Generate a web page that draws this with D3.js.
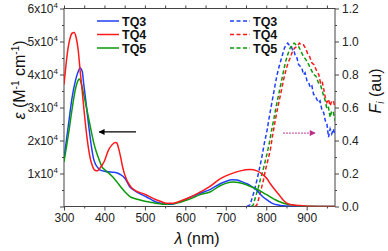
<!DOCTYPE html>
<html><head><meta charset="utf-8">
<script src="https://cdn.jsdelivr.net/npm/d3@7"></script>
<style>body{margin:0;background:#fff} text{font-family:"Liberation Sans",Arial,sans-serif}</style>
</head><body><svg id="c" width="388" height="251"></svg>
<script>
// ---------- data ----------
const seriesNames = ["TQ3", "TQ4", "TQ5"];
const colors = ["#1f3fff", "#ff1a1a", "#0a9a0a"];

// absorption (epsilon, M^-1 cm^-1)
const absWlTQ3 = [300,312,320,328,334,340,345,349,353,357,361,365,369,373,378,382,386,390,400,410,420,430,439,451,463,472,480,492,505,517,529,541,554,566,579,595,612,637,661,686,700,715,728,736,748,760,768,777,785,793,802,810,818,826,835,843,860,900,970];
const absTQ3    = [1.45,2.57,3.3,3.8,4.05,4.2,4.1,3.69,3.3,2.87,2.45,2.06,1.72,1.45,1.28,1.2,1.14,1.1,1.07,1.05,1.04,1.02,0.97,0.85,0.59,0.5,0.44,0.36,0.28,0.2,0.13,0.1,0.07,0.07,0.11,0.18,0.28,0.4,0.51,0.69,0.76,0.81,0.8,0.77,0.71,0.64,0.57,0.49,0.38,0.28,0.2,0.13,0.08,0.05,0.03,0.02,0.01,0,0];

const absWlTQ4 = [300,305,310,315,320,325,330,335,340,345,349,353,357,361,365,369,373,378,382,386,390,394,400,410,418,427,431,435,440,444,448,452,456,460,465,472,480,488,496,505,513,525,538,554,570,591,612,637,661,686,711,736,760,777,793,802,810,818,826,835,843,851,859,870,883,900,970];
const absTQ4    = [3.7,4.3,4.8,5.1,5.25,5.27,5.12,4.75,4.1,3.5,2.98,2.5,2.07,1.72,1.45,1.27,1.15,1.09,1.08,1.12,1.18,1.25,1.38,1.71,1.86,1.94,1.92,1.76,1.5,1.25,1.05,0.9,0.78,0.69,0.6,0.52,0.46,0.42,0.39,0.34,0.29,0.22,0.16,0.1,0.1,0.18,0.28,0.44,0.61,0.84,0.98,1.08,1.12,1.08,0.95,0.84,0.69,0.56,0.44,0.3,0.18,0.1,0.06,0.04,0.03,0.01,0];

const absWlTQ5 = [300,306,312,320,328,334,338,343,349,355,361,367,373,380,386,394,402,410,420,430,440,451,463,475,488,500,513,525,538,550,562,575,587,600,612,637,661,686,700,719,731,744,756,769,781,793,806,818,830,843,855,868,900,970];
const absTQ5    = [1.35,1.8,2.27,2.95,3.54,3.8,3.86,3.72,3.38,3.03,2.67,2.3,1.96,1.65,1.45,1.2,1.1,1.02,0.9,0.76,0.6,0.44,0.3,0.24,0.2,0.16,0.13,0.1,0.08,0.07,0.08,0.09,0.13,0.18,0.23,0.36,0.44,0.63,0.7,0.74,0.73,0.69,0.63,0.57,0.5,0.41,0.32,0.23,0.16,0.1,0.06,0.04,0.01,0];

// emission (normalised F_i)
const emWlTQ3 = [752,760,770,777,785,790,795,802,808,814,820,826,832,839,845,849,853,856,859,862,865,868,872,876,880,884,888,892,896,901,905,909,913,917,921,925,929,933,938,942,946,950,954,958,962,966,970];
const emTQ3   = [0,0.01,0.09,0.16,0.25,0.31,0.38,0.46,0.55,0.63,0.71,0.79,0.85,0.91,0.96,0.98,0.99,0.98,0.98,0.97,0.95,0.95,0.91,0.9,0.86,0.85,0.84,0.8,0.81,0.76,0.75,0.72,0.73,0.68,0.67,0.65,0.63,0.64,0.58,0.57,0.52,0.5,0.42,0.47,0.44,0.47,0.43];

const emWlTQ4 = [772,777,783,788,793,798,804,810,815,820,826,832,838,843,849,854,859,865,870,876,882,887,892,897,902,907,913,918,925,930,934,938,943,946,950,954,958,962,966,970];
const emTQ4   = [0,0.01,0.06,0.11,0.16,0.22,0.28,0.34,0.42,0.49,0.57,0.64,0.71,0.77,0.83,0.87,0.9,0.94,0.96,0.97,0.99,0.98,0.98,0.96,0.93,0.91,0.87,0.86,0.82,0.8,0.75,0.76,0.7,0.66,0.63,0.65,0.61,0.64,0.64,0.6];

const emWlTQ5 = [763,768,775,780,785,792,797,802,808,813,818,824,830,835,841,847,853,859,864,869,874,880,886,892,898,905,911,917,923,929,935,942,946,950,954,958,962,966,970];
const emTQ5   = [0,0.01,0.07,0.11,0.16,0.22,0.27,0.32,0.39,0.46,0.52,0.6,0.67,0.73,0.8,0.87,0.92,0.96,0.98,0.99,0.98,0.97,0.94,0.91,0.89,0.86,0.83,0.8,0.79,0.75,0.73,0.67,0.64,0.59,0.6,0.54,0.58,0.57,0.52];

const xTicks = [300,400,500,600,700,800,900];
const yLeftTicks = [1,2,3,4,5,6];          // x10^4
const yRightTicks = [0,0.2,0.4,0.6,0.8,1.0,1.2];

// arrows (data coordinates)
const absArrow = {from:[478, 2.26], to:[387, 2.26]};   // left axis
const emArrow  = {from:[842, 0.445], to:[921, 0.445]}; // right axis

// ---------- chart ----------
const svg = d3.select("#c");
const L = 64, R = 335, T = 8.5, B = 206.5;
const x = d3.scaleLinear().domain([300, 970]).range([L, R]);
const yL = d3.scaleLinear().domain([0, 6]).range([B, T]);
const yR = d3.scaleLinear().domain([0, 1.2]).range([B, T]);
const axisColor = "#444";

svg.append("clipPath").attr("id","clip").append("rect")
  .attr("x", L).attr("y", T).attr("width", R-L).attr("height", B-T);

function styleAxis(g){
  g.select(".domain").remove();
  g.selectAll("line").attr("stroke", axisColor);
  g.selectAll("text").attr("fill","#222").style("font-size","12px").style("font-family",'"Liberation Sans",Arial,sans-serif');
}
// bottom
svg.append("g").attr("transform",`translate(0,${B})`)
  .call(d3.axisBottom(x).tickValues(xTicks).tickSize(4).tickPadding(3).tickFormat(d3.format("d"))).call(styleAxis);
svg.append("g").attr("transform",`translate(0,${B})`)
  .call(d3.axisBottom(x).tickValues(d3.range(350,970,100)).tickSize(2).tickFormat("")).call(styleAxis);
// top
svg.append("g").attr("transform",`translate(0,${T})`)
  .call(d3.axisTop(x).tickValues(d3.range(300,970,50)).tickSize(3).tickFormat("")).call(styleAxis);
// left
const gl = svg.append("g").attr("transform",`translate(${L},0)`)
  .call(d3.axisLeft(yL).tickValues([0].concat(yLeftTicks)).tickSize(4).tickPadding(3).tickFormat(""));
styleAxis(gl);
gl.selectAll(".tick").each(function(d){
  if (d === 0) return;
  const t = d3.select(this).append("text").attr("x",-6).attr("dy","0.35em")
    .attr("text-anchor","end").attr("fill","#222").style("font-size","12px");
  t.append("tspan").text(d + "x10");
  t.append("tspan").attr("dy","-5").style("font-size","8px").text("4");
});
svg.append("g").attr("transform",`translate(${L},0)`)
  .call(d3.axisLeft(yL).tickValues(d3.range(0.5,6,1)).tickSize(2).tickFormat("")).call(styleAxis);
// right
svg.append("g").attr("transform",`translate(${R},0)`)
  .call(d3.axisRight(yR).tickValues(yRightTicks).tickSize(4).tickPadding(3).tickFormat(d3.format(".1f"))).call(styleAxis);
svg.append("g").attr("transform",`translate(${R},0)`)
  .call(d3.axisRight(yR).tickValues(d3.range(0.1,1.2,0.2)).tickSize(2).tickFormat("")).call(styleAxis);
// frame
svg.append("rect").attr("x",L).attr("y",T).attr("width",R-L).attr("height",B-T)
  .attr("fill","none").attr("stroke",axisColor).attr("stroke-width",1);

// curves
const plot = svg.append("g").attr("clip-path","url(#clip)");
const absSets = [[absWlTQ3,absTQ3],[absWlTQ4,absTQ4],[absWlTQ5,absTQ5]];
const emSets  = [[emWlTQ3,emTQ3],[emWlTQ4,emTQ4],[emWlTQ5,emTQ5]];
const lineAbs = d3.line().x(d=>x(d[0])).y(d=>yL(d[1])).curve(d3.curveMonotoneX);
const lineEm  = d3.line().x(d=>x(d[0])).y(d=>yR(d[1])).curve(d3.curveLinear);
[0,1,2].forEach(i=>{
  const [w,v] = emSets[i];
  plot.append("path").datum(w.map((d,j)=>[d,v[j]])).attr("d",lineEm)
    .attr("fill","none").attr("stroke",colors[i]).attr("stroke-width",1.5).attr("stroke-dasharray","4,2.5");
});
[0,2,1].forEach(i=>{
  const [w,v] = absSets[i];
  plot.append("path").datum(w.map((d,j)=>[d,v[j]])).attr("d",lineAbs)
    .attr("fill","none").attr("stroke",colors[i]).attr("stroke-width",1.5);
});

// arrows
const defs = svg.append("defs");
defs.append("marker").attr("id","ah").attr("viewBox","0 0 10 10").attr("refX",9).attr("refY",5)
  .attr("markerWidth",6).attr("markerHeight",5).attr("orient","auto-start-reverse")
  .append("path").attr("d","M0,0L10,5L0,10Z").attr("fill","#000");
defs.append("marker").attr("id","ahp").attr("viewBox","0 0 10 10").attr("refX",9).attr("refY",5)
  .attr("markerWidth",6).attr("markerHeight",5).attr("orient","auto")
  .append("path").attr("d","M0,0L10,5L0,10Z").attr("fill","#b8308c");
svg.append("line").attr("x1",x(absArrow.from[0])).attr("y1",yL(absArrow.from[1]))
  .attr("x2",x(absArrow.to[0])).attr("y2",yL(absArrow.to[1]))
  .attr("stroke","#000").attr("stroke-width",1.2).attr("marker-end","url(#ah)");
svg.append("line").attr("x1",x(emArrow.from[0])).attr("y1",yR(emArrow.from[1]))
  .attr("x2",x(emArrow.to[0])).attr("y2",yR(emArrow.to[1]))
  .attr("stroke","#b8308c").attr("stroke-width",1.2).attr("stroke-dasharray","1.5,1.5").attr("marker-end","url(#ahp)");

// legends
const legY = [21, 34.5, 48];
seriesNames.forEach((n,i)=>{
  svg.append("line").attr("x1",97).attr("x2",119).attr("y1",legY[i]).attr("y2",legY[i])
    .attr("stroke",colors[i]).attr("stroke-width",1.5);
  svg.append("text").attr("x",122).attr("y",legY[i]+4.5).attr("font-weight","bold")
    .style("font-size","12.5px").attr("fill","#111").text(n);
  svg.append("line").attr("x1",230).attr("x2",250).attr("y1",legY[i]).attr("y2",legY[i])
    .attr("stroke",colors[i]).attr("stroke-width",1.5).attr("stroke-dasharray","4,2.5");
  svg.append("text").attr("x",253).attr("y",legY[i]+4.5).attr("font-weight","bold")
    .style("font-size","12.5px").attr("fill","#111").text(n);
});

// axis titles
const xt = svg.append("text").attr("x",197).attr("y",244).attr("text-anchor","middle").style("font-size","16px").attr("fill","#111");
xt.append("tspan").style("font-style","italic").text("λ");
xt.append("tspan").text(" (nm)");

const ylt = svg.append("text").attr("transform","translate(25,80) rotate(-90)").attr("text-anchor","middle")
  .style("font-size","16px").attr("fill","#111");
ylt.append("tspan").style("font-style","italic").text("ε");
ylt.append("tspan").text(" (M");
ylt.append("tspan").attr("dy",-6).style("font-size","10px").text("-1");
ylt.append("tspan").attr("dy",6).text(" cm");
ylt.append("tspan").attr("dy",-6).style("font-size","10px").text("-1");
ylt.append("tspan").attr("dy",6).text(")");

const yrt = svg.append("text").attr("transform","translate(381,91) rotate(-90)").attr("text-anchor","middle")
  .style("font-size","16px").attr("fill","#111");
yrt.append("tspan").style("font-style","italic").text("F");
yrt.append("tspan").attr("dy",3).style("font-size","10px").style("font-style","italic").text("i");
yrt.append("tspan").attr("dy",-3).text(" (au)");
</script></body></html>
